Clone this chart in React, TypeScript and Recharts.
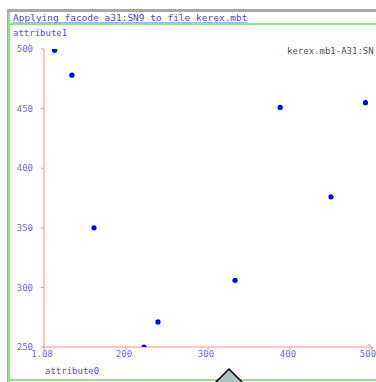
import React from 'react';
import { ScatterChart, Scatter, XAxis, YAxis } from 'recharts';

// attribute0 / attribute1 pairs
const attribute0 = [113, 134, 161, 222, 239, 333, 388, 450, 492];
const attribute1 = [499, 478, 350, 250, 271, 306, 451, 376, 455];

const xTicks = [100, 200, 300, 400, 500];
const yTicks = [250, 300, 350, 400, 450, 500];
const xTickLabels = ['1.08', '200', '300', '400', '500'];

const title = 'Applying facode a31:SN9 to file kerex.mbt';
const xName = 'attribute0';
const yName = 'attribute1';
const seriesName = 'kerex.mb1-A31:SN';

const points = attribute0.map((x, i) => ({ x, y: attribute1[i] }));

const mono = '"DejaVu Sans Mono", monospace';
const tickBlue = '#6a6ae6';
const axisPink = '#ff8a8a';
const green = '#8ee08e';

const XTick = (props: any) => {
  const { x, y, payload } = props;
  const i = xTicks.indexOf(payload.value);
  const last = i === xTicks.length - 1;
  return (
    <text
      x={last ? x - 4 : x - 2}
      y={y}
      dy="0.71em"
      textAnchor="middle"
      fill={tickBlue}
      fontSize={9}
      fontFamily={mono}
    >
      {xTickLabels[i] ?? payload.value}
    </text>
  );
};

const Dot = (props: any) => <circle cx={props.cx} cy={props.cy} r={2.6} fill="#0000ff" />;

const App: React.FC = () => {
  return (
    <div
      style={{
        position: 'fixed',
        left: 0,
        top: 0,
        width: 376,
        height: 382,
        background: '#fff',
        overflow: 'hidden',
        fontFamily: mono,
      }}
    >
      {/* window frame */}
      <div style={{ position: 'absolute', left: 7, top: 9, width: 369, height: 3, background: '#a8a8a8' }} />
      <div style={{ position: 'absolute', left: 7, top: 9, width: 1, height: 373, background: '#a8a8a8' }} />
      <div style={{ position: 'absolute', left: 8, top: 12, width: 2, height: 370, background: green }} />
      <div style={{ position: 'absolute', left: 8, top: 23, width: 368, height: 2, background: green }} />
      <div style={{ position: 'absolute', left: 8, top: 379, width: 368, height: 2, background: green }} />

      <div style={{ position: 'absolute', left: 13, top: 12, fontSize: 9.5, color: '#4a4ad0', whiteSpace: 'nowrap', textDecoration: 'underline', textDecorationColor: '#b0b0f0' }}>
        {title}
      </div>
      <div style={{ position: 'absolute', left: 13, top: 28, fontSize: 9, color: '#5050d8', whiteSpace: 'nowrap' }}>
        {yName}
      </div>
      <div style={{ position: 'absolute', left: 287, top: 46, fontSize: 9, color: '#555', whiteSpace: 'nowrap' }}>
        {seriesName}
      </div>
      <div style={{ position: 'absolute', left: 45, top: 366, fontSize: 9, color: '#5050d8', whiteSpace: 'nowrap' }}>
        {xName}
      </div>

      <div style={{ position: 'absolute', left: 0, top: 0 }}>
        <ScatterChart width={376} height={382} margin={{ top: 49, right: 4, bottom: 23, left: 0 }}>
          <XAxis
            type="number"
            dataKey="x"
            domain={[100, 500]}
            ticks={xTicks}
            interval={0}
            height={12}
            stroke={axisPink}
            tickSize={3}
            tickMargin={1}
            tick={<XTick />}
            allowDataOverflow
          />
          <YAxis
            type="number"
            dataKey="y"
            domain={[250, 500]}
            ticks={yTicks}
            interval={0}
            width={44}
            stroke={axisPink}
            tickSize={3}
            tickMargin={8}
            tick={{ fill: tickBlue, fontSize: 9, fontFamily: mono }}
            allowDataOverflow
          />
          <Scatter data={points} shape={<Dot />} isAnimationActive={false} />
        </ScatterChart>
      </div>

      {/* arrow on x axis and the cut-off marker at the bottom */}
      <svg width={376} height={382} style={{ position: 'absolute', left: 0, top: 0, pointerEvents: 'none' }}>
        <path d="M368 344 L373 347.5 L368 351" fill="none" stroke={axisPink} strokeWidth={1} />
        <polygon points="229,369 246,386 229,403 212,386" fill="#a9c3bf" stroke="#000" strokeWidth={1.5} />
      </svg>
    </div>
  );
};

export default App;
